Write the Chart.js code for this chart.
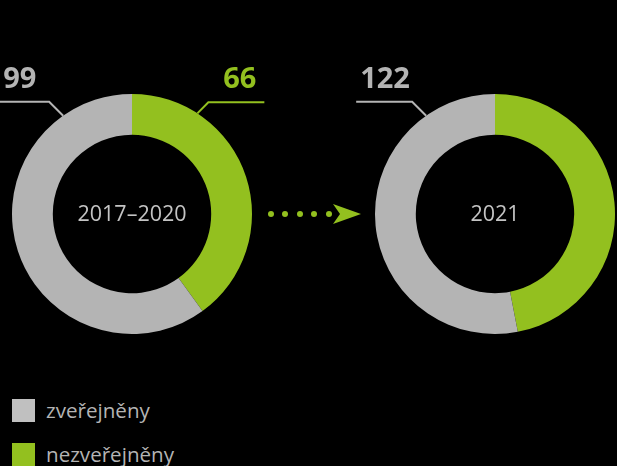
<!DOCTYPE html>
<html>
<head>
<meta charset="utf-8">
<script src="https://cdn.jsdelivr.net/npm/chart.js@4"></script>
<style>
  body { margin: 0; background: #000; width: 617px; height: 466px; overflow: hidden; position: relative; font-family: "Open Sans", sans-serif; }
  .wrap { position: absolute; top: 60px; width: 300px; height: 300px; }
  #w1 { left: 0; }
  #w2 { left: 323px; }
  #arrow { position: absolute; left: 260px; top: 200px; }
  .legend { position: absolute; left: 12px; color: #b4b4b4; font-size: 20.6px; line-height: 23px; }
  .legend span { display: inline-block; width: 23px; height: 23px; vertical-align: top; margin-right: 11px; }
</style>
</head>
<body>
<div class="wrap" id="w1"><canvas id="c1"></canvas></div>
<div class="wrap" id="w2"><canvas id="c2"></canvas></div>
<svg id="arrow" width="110" height="30">
  <g fill="#93c01f">
    <circle cx="11" cy="14" r="3"/>
    <circle cx="25" cy="14" r="3"/>
    <circle cx="40" cy="14" r="3"/>
    <circle cx="54" cy="14" r="3"/>
    <circle cx="69" cy="14" r="3"/>
    <polygon points="73,4 101,14 73,24 80,14"/>
  </g>
</svg>
<div class="legend" style="top:399px"><span style="background:#c0c0c0"></span>zveřejněny</div>
<div class="legend" style="top:443px"><span style="background:#93c01f"></span>nezveřejněny</div>
<script>
// data
const periods = ['2017–2020', '2021'];
const categories = ['zveřejněny', 'nezveřejněny'];
const published = [99, 122];
const unpublished = [66, 108]; // 2021 value not shown

const grey = '#b4b4b4';
const green = '#93c01f';

// value labels with leader lines, anchored on the arc's outer edge
const callouts = {
  id: 'callouts',
  afterDatasetsDraw(chart, args, opts) {
    const ctx = chart.ctx;
    const meta = chart.getDatasetMeta(0);
    (opts.items || []).forEach(item => {
      const arc = meta.data[item.index];
      const a = item.angle * Math.PI / 180 - Math.PI / 2;
      const px = arc.x + Math.cos(a) * arc.outerRadius;
      const py = arc.y + Math.sin(a) * arc.outerRadius;
      const ex = px + item.dir * item.rise;
      const ey = py - item.rise;
      const endX = ex + item.dir * item.len;
      const color = chart.data.datasets[0].backgroundColor[item.index];
      ctx.save();
      ctx.strokeStyle = color;
      ctx.lineWidth = 2;
      ctx.beginPath();
      ctx.moveTo(px, py);
      ctx.lineTo(ex, ey);
      ctx.lineTo(endX, ey);
      ctx.stroke();
      ctx.fillStyle = color;
      ctx.font = 'bold 29px "Open Sans"';
      ctx.textBaseline = 'alphabetic';
      const value = chart.data.datasets[0].data[item.index];
      if (item.dir < 0) {
        ctx.textAlign = 'left';
        ctx.fillText(value, endX + 4, ey - 14);
      } else {
        ctx.textAlign = 'right';
        ctx.fillText(value, endX - 8, ey - 14);
      }
      ctx.restore();
    });
  }
};

const centerText = {
  id: 'centerText',
  afterDatasetsDraw(chart, args, opts) {
    const arc = chart.getDatasetMeta(0).data[0];
    const ctx = chart.ctx;
    ctx.save();
    ctx.fillStyle = '#c4c4c4';
    ctx.font = '21.5px "Open Sans"';
    ctx.textAlign = 'center';
    ctx.textBaseline = 'middle';
    ctx.fillText(opts.text, arc.x, arc.y + 1);
    ctx.restore();
  }
};

// slices run clockwise from the top: nezveřejněny first, then zveřejněny
function makeDonut(id, i, padding, items) {
  new Chart(document.getElementById(id), {
    type: 'doughnut',
    data: {
      labels: [categories[1], categories[0]],
      datasets: [{
        data: [unpublished[i], published[i]],
        backgroundColor: [green, grey],
        borderWidth: 0
      }]
    },
    options: {
      responsive: true,
      maintainAspectRatio: false,
      animation: false,
      cutout: '66%',
      layout: { padding: padding },
      plugins: {
        legend: { display: false },
        tooltip: { enabled: false },
        callouts: { items: items },
        centerText: { text: periods[i] }
      }
    },
    plugins: [callouts, centerText]
  });
}

makeDonut('c1', 0, { left: 12, right: 48, top: 34, bottom: 26 }, [
  { index: 1, angle: -35, dir: -1, rise: 14, len: 50 },
  { index: 0, angle: 33, dir: 1, rise: 11, len: 56 }
]);
makeDonut('c2', 1, { left: 52, right: 8, top: 34, bottom: 26 }, [
  { index: 1, angle: -35, dir: -1, rise: 14, len: 56 }
]);
</script>
</body>
</html>
